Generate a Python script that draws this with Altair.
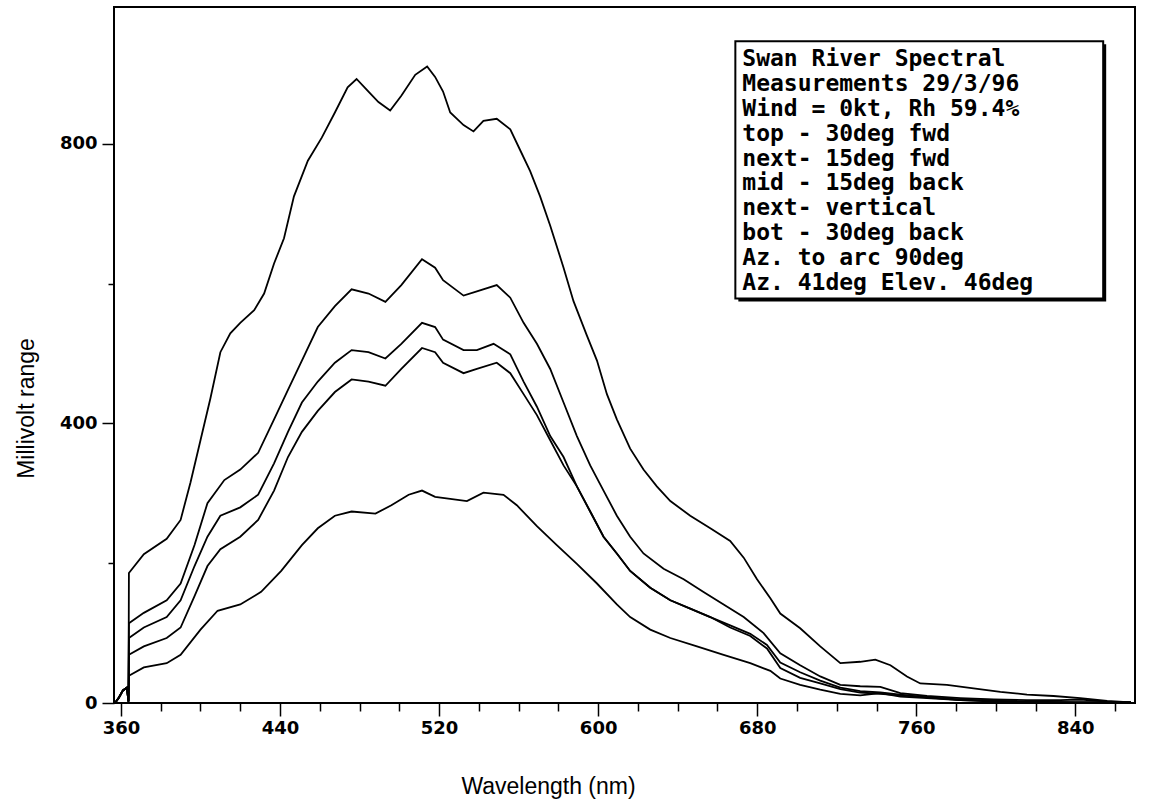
import altair as alt
import pandas as pd

# ---- data ----
pre_wl = [357, 359, 361, 363, 363.8]
pre_mv = [0, 8, 18, 22, 2]

top_wl = [364, 371.5, 383, 390, 395, 400, 405, 410, 415, 420, 427, 432, 437, 442, 447, 454, 461,
          467.6, 474, 478.5, 484.5, 489.5, 495.4, 501, 508, 514, 518, 522, 525.6, 532.3, 537.3,
          542.3, 549, 555.8, 560.8, 565.8, 570.8, 575.9, 582.6, 587.6, 594.3, 599.4, 604.4, 609.4,
          616.1, 622.8, 629.5, 636.3, 646.3, 656.4, 666.4, 673.2, 679.9, 686.6, 691.6, 701.6,
          711.7, 721.8, 731.8, 739.4, 747, 755.3, 762, 775.4, 788.8, 802.3, 815.7, 829, 842.5,
          856, 868]
top_mv = [186, 213, 235, 262, 316, 376, 436, 502, 529, 544, 562, 586, 629, 665, 725, 776, 809,
          845, 881, 893, 875, 860, 848, 869, 899, 911, 896, 875, 845, 827, 818,
          833, 836, 821, 791, 761, 725, 683, 623, 575, 526, 490, 442, 406,
          364, 334, 310, 289, 268, 250, 232, 208, 177, 150, 128, 107,
          81, 57, 59, 62, 54, 38, 28, 26, 21, 16, 12, 10, 7,
          3, 1]

n1_wl = [364, 371.5, 383, 390, 397, 403.5, 412, 420, 429, 437, 444, 451, 459, 467.6, 476, 484.5,
         493, 501, 511.4, 518, 522, 532.3, 539, 549, 555.8, 562.5, 569.2, 575.9, 582.6, 589.3,
         596, 602.7, 609.4, 616.1, 622.8, 632.9, 643, 653, 663.1, 673.2, 683.2, 691.6, 701.6,
         711.7, 721.8, 731.8, 741.9, 752, 765.4, 782.2, 799, 815.7, 832.5, 842.5, 856, 868]
n1_mv = [114, 129, 147, 171, 226, 286, 319, 334, 358, 406, 448, 490, 538, 568, 592, 586,
         574, 598, 635, 623, 605, 583, 589, 598, 580, 544, 514, 478, 430, 382,
         340, 304, 268, 238, 214, 192, 177, 159, 141, 123, 100, 71, 54,
         38, 26, 24, 23, 14, 10, 7, 5, 4, 4, 5, 2, 1]

mid_wl = [364, 371.5, 383, 390, 397, 403.5, 410, 420, 429, 437, 444, 451, 459, 467.6, 476, 484.5,
          493, 501, 511.4, 518, 522, 532.3, 539, 547.4, 555.8, 562.5, 569.2, 575.9, 582.6, 589.3,
          596, 602.7, 609.4, 616.1, 626.2, 636.3, 646.3, 656.4, 666.4, 676.5, 684.9, 691.6, 701.6,
          711.7, 721.8, 731.8, 741.9, 752, 765.4, 782.2, 799, 815.7, 840, 868]
mid_mv = [93, 108, 123, 147, 196, 238, 268, 280, 298, 343, 388, 430, 460, 487, 505, 502,
          493, 514, 544, 538, 520, 505, 505, 514, 499, 460, 424, 382, 352, 310,
          274, 238, 214, 189, 165, 147, 135, 123, 111, 99, 83, 58, 44,
          32, 22, 17, 15, 12, 8, 5, 3, 2, 1, 1]

n2_wl = [364, 371.5, 383, 390, 397, 403.5, 410, 420, 429, 437, 444, 451, 459, 467.6, 476, 484.5,
         493, 501, 511.4, 518, 522, 532.3, 539, 549, 555.8, 562.5, 569.2, 575.9, 582.6, 589.3,
         596, 602.7, 609.4, 616.1, 626.2, 636.3, 646.3, 656.4, 666.4, 676.5, 684.9, 691.6, 701.6,
         711.7, 721.8, 731.8, 741.9, 752, 765.4, 782.2, 799, 815.7, 840, 868]
n2_mv = [69, 81, 93, 108, 153, 196, 220, 238, 262, 304, 352, 388, 418, 445, 463, 460,
         454, 478, 508, 502, 487, 472, 478, 487, 472, 442, 412, 376, 340, 310,
         274, 238, 214, 189, 165, 147, 135, 123, 108, 96, 78, 50, 36,
         28, 20, 15, 13, 11, 8, 4, 2, 1, 1, 1]

bot_wl = [364, 371.5, 383, 390, 400, 408.6, 420, 430.5, 440.6, 451, 459, 467.6, 476, 488, 496,
          504.7, 511.4, 518, 525.6, 534, 542.3, 552.4, 559.1, 569.2, 579.2, 589.3, 599.4, 609.4,
          616.1, 626.2, 636.3, 649.7, 663.1, 676.5, 686.6, 691.6, 701.6, 711.7, 721.8, 731.8,
          741.9, 752, 765.4, 782.2, 799, 815.7, 840, 868]
bot_mv = [39, 51, 57, 69, 105, 132, 141, 159, 189, 226, 250, 268, 274, 271, 283,
          298, 304, 295, 292, 289, 301, 298, 283, 253, 226, 199, 171, 141,
          123, 105, 93, 81, 69, 57, 46, 35, 26, 19, 13, 11,
          14, 9, 7, 4, 3, 2, 1, 1]

series_names = ["top - 30deg fwd", "next- 15deg fwd", "mid - 15deg back",
                "next- vertical", "bot - 30deg back"]
series_wl = [top_wl, n1_wl, mid_wl, n2_wl, bot_wl]
series_mv = [top_mv, n1_mv, mid_mv, n2_mv, bot_mv]

note_lines = ["Swan River Spectral", "Measurements 29/3/96", "Wind = 0kt, Rh 59.4%",
              "top - 30deg fwd", "next- 15deg fwd", "mid - 15deg back", "next- vertical",
              "bot - 30deg back", "Az. to arc 90deg", "Az. 41deg Elev. 46deg"]

x_major = [360, 440, 520, 600, 680, 760, 840]
x_minor = [380, 400, 420, 460, 480, 500, 540, 560, 580, 620, 640, 660, 700, 720, 740, 780, 800, 820, 860]
y_major = [0, 400, 800]
y_minor = [200, 600]

# ---- layout constants ----
X_DOMAIN = [356.5, 870]
Y_DOMAIN = [0, 996]
BOX = {"x": 669, "x2": 854, "y": 947, "y2": 579}
TEXT_X = 672.5
TEXT_TOP = 921
TEXT_STEP = 35.5

rows = []
for name, wl, mv in zip(series_names, series_wl, series_mv):
    for i, (w, v) in enumerate(zip(pre_wl + wl, pre_mv + mv)):
        rows.append({"series": name, "wl": w, "mv": v, "order": i})
df = pd.DataFrame(rows)

xs = alt.Scale(domain=X_DOMAIN, nice=False, zero=False)
ys = alt.Scale(domain=Y_DOMAIN, nice=False, zero=False)

lab = dict(labelFont="DejaVu Sans", labelFontWeight="bold", labelFontSize=18,
           labelColor="black", tickColor="black", tickWidth=1.5, domain=False, grid=False)

lines = alt.Chart(df).mark_line(color="black", strokeWidth=1.8).encode(
    x=alt.X("wl:Q", scale=xs, axis=alt.Axis(
        values=x_major, tickSize=13, labelPadding=3, orient="bottom",
        title="Wavelength (nm)", titleFont="Liberation Sans", titleFontSize=23,
        titleFontWeight="normal", titleColor="black", titleX=434, titleY=90,
        titleAlign="center", titleBaseline="alphabetic", **lab)),
    y=alt.Y("mv:Q", scale=ys, axis=alt.Axis(
        values=y_major, tickSize=12, labelPadding=5, orient="left",
        title="Millivolt range", titleFont="Liberation Sans", titleFontSize=23,
        titleFontWeight="normal", titleColor="black", titleX=-88, titleY=401,
        titleAngle=270, titleAlign="center", titleBaseline="middle", **lab)),
    detail="series:N",
    order="order:Q",
)

minor_df = pd.DataFrame({"wl": x_minor, "mv": [0] * len(x_minor)})
minor_y_df = pd.DataFrame({"wl": [X_DOMAIN[0]] * len(y_minor), "mv": y_minor})
minor = alt.Chart(pd.concat([minor_df, minor_y_df])).mark_point(opacity=0).encode(
    x=alt.X("wl:Q", scale=xs, axis=alt.Axis(values=x_minor, tickSize=8, labels=False,
                                            title=None, orient="bottom", **lab)),
    y=alt.Y("mv:Q", scale=ys, axis=alt.Axis(values=y_minor, tickSize=6, labels=False,
                                            title=None, orient="left", **lab)),
)

box_df = pd.DataFrame([BOX])
shadow = alt.Chart(box_df).mark_rect(fill="black", xOffset=3, x2Offset=3, yOffset=3, y2Offset=3).encode(
    x=alt.X("x:Q", scale=xs, axis=None), x2="x2:Q",
    y=alt.Y("y:Q", scale=ys, axis=None), y2="y2:Q")
box = alt.Chart(box_df).mark_rect(fill="white", stroke="black", strokeWidth=2).encode(
    x=alt.X("x:Q", scale=xs, axis=None), x2="x2:Q",
    y=alt.Y("y:Q", scale=ys, axis=None), y2="y2:Q")

txt_df = pd.DataFrame({"t": note_lines,
                       "x": [TEXT_X] * len(note_lines),
                       "y": [TEXT_TOP - i * TEXT_STEP for i in range(len(note_lines))]})
text = alt.Chart(txt_df).mark_text(font="DejaVu Sans Mono", fontWeight="bold", fontSize=23,
                                   align="left", baseline="middle", color="black").encode(
    x=alt.X("x:Q", scale=xs, axis=None),
    y=alt.Y("y:Q", scale=ys, axis=None),
    text="t:N")

chart = alt.layer(lines, minor, shadow, box, text).resolve_axis(
    x="independent", y="independent"
).properties(
    width=1021, height=696,
    autosize=alt.AutoSizeParams(type="none"),
    padding={"left": 114, "top": 7, "right": 15, "bottom": 105},
    background="white",
).configure_view(stroke="black", strokeWidth=2)

chart.save("out.html", embed_options={"renderer": "svg", "actions": False})
